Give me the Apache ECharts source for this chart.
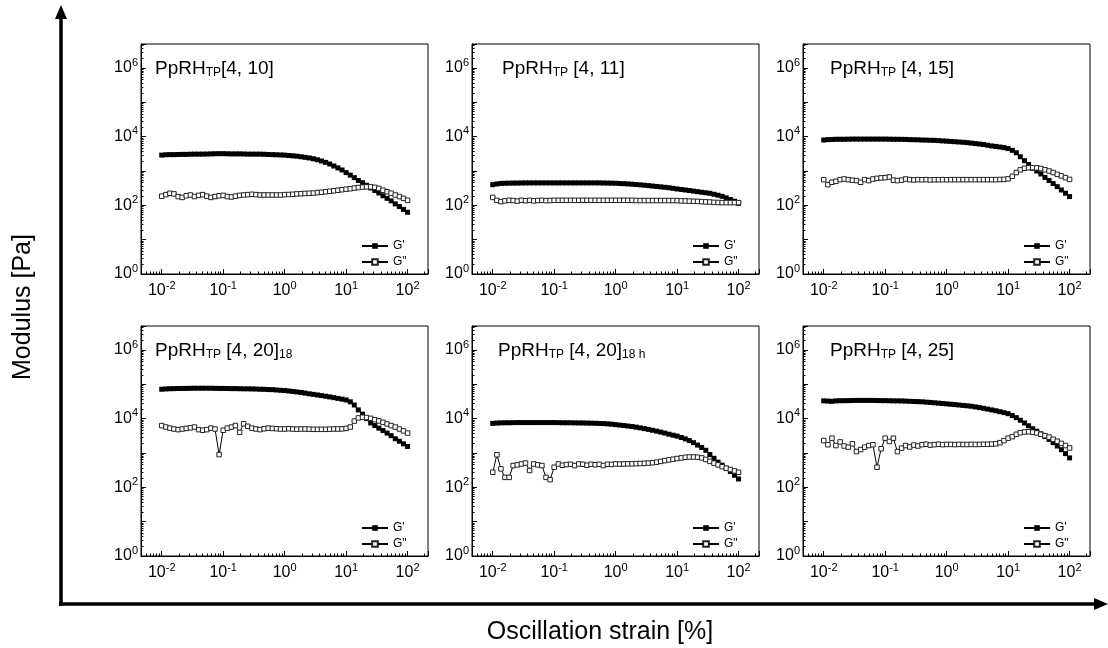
<!DOCTYPE html>
<html>
<head>
<meta charset="utf-8">
<title>Amplitude sweeps</title>
<script src="https://cdn.jsdelivr.net/npm/echarts@6/dist/echarts.min.js"></script>
</head>
<body style="margin:0;background:#fff">
<div id="main" style="width:1108px;height:648px;"></div>
<script>
// strain points [%], 15 per decade, shared by all six sweeps
var strain = [
  0.01, 0.0117, 0.0136, 0.0158, 0.0185, 0.0215, 0.0251, 0.0293, 0.0341, 0.0398, 0.0464, 0.0541, 0.0631, 0.0736, 0.0858,
  0.1, 0.117, 0.136, 0.158, 0.185, 0.215, 0.251, 0.293, 0.341, 0.398, 0.464, 0.541, 0.631, 0.736, 0.858,
  1, 1.17, 1.36, 1.58, 1.85, 2.15, 2.51, 2.93, 3.41, 3.98, 4.64, 5.41, 6.31, 7.36, 8.58,
  10, 11.7, 13.6, 15.8, 18.5, 21.5, 25.1, 29.3, 34.1, 39.8, 46.4, 54.1, 63.1, 73.6, 85.8,
  100];

// G' (storage) and G" (loss) in Pa
var p1Storage = [
  2900, 2970, 3000, 3000, 3030, 3050, 3050, 3080, 3100, 3100, 3100, 3120, 3150, 3180, 3200,
  3200, 3170, 3150, 3150, 3150, 3130, 3100, 3100, 3100, 3100, 3070, 3030, 3000, 2970, 2930,
  2900, 2830, 2770, 2700, 2600, 2500, 2400, 2270, 2120, 1950, 1780, 1600, 1400, 1230, 1070,
  900, 760, 640, 530, 455, 385, 320, 270, 230, 190, 160, 135, 110, 92, 76,
  63];
var p1Loss = [
  185, 205, 225, 215, 180, 170, 190, 200, 180, 195, 205, 185, 170, 180, 190,
  195, 180, 175, 185, 195, 200, 205, 210, 205, 200, 200, 200, 200, 200, 200,
  205, 207, 210, 215, 218, 222, 225, 228, 235, 240, 250, 257, 265, 275, 285,
  295, 305, 318, 330, 340, 345, 345, 335, 310, 275, 250, 225, 200, 180, 160,
  140];

var p2Storage = [
  400, 420, 435, 440, 443, 445, 445, 448, 450, 450, 450, 450, 450, 450, 450,
  450, 450, 450, 450, 450, 450, 450, 450, 450, 450, 450, 450, 447, 445, 443,
  440, 433, 427, 420, 413, 405, 395, 385, 375, 365, 355, 345, 335, 325, 313,
  300, 290, 280, 270, 260, 250, 240, 232, 224, 210, 197, 183, 165, 148, 132,
  115];
var p2Loss = [
  170, 140, 128, 135, 140, 138, 133, 140, 136, 140, 135, 138, 140, 137, 138,
  140, 140, 140, 140, 140, 140, 140, 140, 140, 140, 140, 140, 140, 140, 140,
  140, 140, 140, 140, 140, 138, 138, 138, 138, 138, 138, 138, 138, 138, 138,
  137, 135, 134, 133, 131, 130, 128, 126, 125, 122, 121, 120, 120, 120, 120,
  120];

var p3Storage = [
  8000, 8200, 8300, 8400, 8400, 8400, 8450, 8500, 8500, 8500, 8500, 8500, 8500, 8500, 8500,
  8500, 8450, 8400, 8400, 8350, 8300, 8200, 8150, 8100, 8000, 7930, 7870, 7800, 7670, 7530,
  7400, 7270, 7130, 7000, 6870, 6700, 6500, 6300, 6100, 5900, 5630, 5370, 5200, 5000, 4800,
  4500, 4000, 3400, 2600, 2000, 1550, 1200, 1000, 820, 650, 530, 430, 350, 280, 225,
  180];
var p3Loss = [
  560, 400, 470, 500, 560, 585, 560, 540, 525, 470, 560, 525, 585, 610, 630,
  640, 670, 540, 525, 540, 585, 560, 550, 560, 555, 560, 550, 555, 555, 560,
  555, 560, 560, 560, 560, 560, 560, 560, 560, 560, 560, 560, 560, 565, 570,
  590, 700, 900, 1080, 1200, 1250, 1250, 1230, 1180, 1080, 1000, 900, 800, 720, 640,
  570];

var p4Storage = [
  72000, 73500, 74500, 75000, 75500, 76000, 76000, 76500, 77000, 77000, 77000, 77000, 77000, 76500, 76000,
  76000, 75500, 75000, 75000, 74500, 74000, 74000, 73500, 73000, 72000, 71500, 70500, 70000, 68500, 67000,
  66000, 64000, 62000, 60000, 58000, 55500, 53000, 51000, 49000, 47000, 45000, 43000, 41000, 39000, 37000,
  35000, 31000, 25000, 18000, 13500, 10000, 7500, 6300, 5300, 4500, 3800, 3200, 2600, 2200, 1850,
  1550];
var p4Loss = [
  6300, 5700, 5300, 5000, 4800, 5000, 5200, 5400, 5700, 4800, 4600, 4800, 5300, 5000, 900,
  4600, 5300, 5700, 6300, 4000, 7100, 6000, 5300, 5000, 4800, 5100, 5300, 5200, 5100, 5000,
  5000, 5100, 5000, 4950, 5000, 5000, 4950, 4900, 4900, 4900, 4900, 4950, 5000, 5000, 5050,
  5200, 5700, 8500, 10500, 11000, 10800, 10200, 9300, 8600, 7800, 7000, 6300, 5700, 5000, 4400,
  3800];

var p5Storage = [
  7300, 7450, 7550, 7600, 7600, 7650, 7700, 7700, 7700, 7700, 7700, 7700, 7700, 7700, 7700,
  7700, 7650, 7600, 7600, 7600, 7550, 7500, 7500, 7450, 7400, 7330, 7270, 7200, 7070, 6900,
  6700, 6500, 6300, 6100, 5900, 5650, 5400, 5130, 4870, 4600, 4330, 4070, 3800, 3530, 3300,
  3100, 2830, 2570, 2300, 2000, 1700, 1450, 1200, 900, 700, 540, 440, 360, 290, 225,
  175];
var p5Loss = [
  275, 890, 345, 195, 195, 430, 450, 480, 510, 310, 480, 450, 430, 195, 167,
  385, 480, 440, 460, 470, 430, 480, 470, 440, 470, 455, 470, 430, 470, 465,
  480, 475, 480, 485, 485, 490, 495, 500, 510, 520, 540, 570, 600, 630, 660,
  690, 720, 750, 765, 765, 755, 720, 650, 570, 505, 450, 400, 360, 330, 300,
  275];

var p6Storage = [
  33000, 32500, 32000, 33000, 33300, 33500, 33500, 33800, 34000, 34000, 34000, 34000, 34000, 33800, 33500,
  33500, 33300, 33000, 33000, 32800, 32500, 32000, 31700, 31300, 31000, 30300, 29700, 29000, 28300, 27700,
  27000, 26300, 25700, 25000, 24300, 23700, 23000, 22000, 21000, 20000, 19000, 18000, 17000, 16000, 15000,
  14000, 12300, 10700, 9000, 7500, 6200, 5100, 4300, 3600, 3000, 2500, 2000, 1600, 1250, 960,
  720];
var p6Loss = [
  2300, 1740, 2700, 1650, 2100, 1600, 1480, 1850, 1100, 1260, 1480, 1650, 1740, 385, 1330,
  2700, 2170, 2700, 1100, 1390, 1650, 1500, 1700, 1600, 1750, 1800, 1700, 1750, 1800, 1750,
  1780, 1780, 1760, 1780, 1770, 1770, 1780, 1770, 1780, 1790, 1800, 1820, 1850, 2000, 2300,
  2700, 3000, 3500, 3900, 4100, 4150, 4050, 3850, 3500, 3200, 2900, 2500, 2200, 1900, 1650,
  1400];

var panelTitles = ['PpRH{sub|TP}[4, 10]', 'PpRH{sub|TP} [4, 11]', 'PpRH{sub|TP} [4, 15]',
  'PpRH{sub|TP} [4, 20]{sub|18}', 'PpRH{sub|TP} [4, 20]{sub|18 h}', 'PpRH{sub|TP} [4, 25]'];
var storageSets = [p1Storage, p2Storage, p3Storage, p4Storage, p5Storage, p6Storage];
var lossSets = [p1Loss, p2Loss, p3Loss, p4Loss, p5Loss, p6Loss];

var FONT = 'Liberation Sans, Arial, sans-serif';
var colLeft = [141, 472, 803];
var rowTop = [44, 326];
var W = 287, H = 230;
var titleDx = [14, 30, 27, 14, 26, 27];

function powLabel(evenOnly) {
  return function (v) {
    var e = Math.log10(v);
    var r = Math.round(e);
    if (Math.abs(e - r) > 1e-6) return '';
    if (evenOnly && r % 2 !== 0) return '';
    return '10{s|' + r + '}';
  };
}

function axisCommon(evenOnly, margin) {
  return {
    type: 'log',
    logBase: 10,
    axisLine: { show: true, onZero: false, lineStyle: { color: '#000', width: 1 } },
    axisTick: { show: true, inside: true, length: 5, lineStyle: { color: '#000' } },
    minorTick: { show: true, splitNumber: 10, length: 2.5, lineStyle: { color: '#000' } },
    splitLine: { show: false },
    minorSplitLine: { show: false },
    axisLabel: {
      formatter: powLabel(evenOnly),
      margin: margin,
      color: '#000',
      fontSize: 16,
      fontFamily: FONT,
      rich: { s: { fontSize: 11, fontFamily: FONT, color: '#000', padding: [0, 0, 11, 0] } }
    }
  };
}

function buildOption() {
  var grids = [], xAxes = [], yAxes = [], series = [], titles = [], legends = [];
  for (var i = 0; i < 6; i++) {
    var gx = colLeft[i % 3], gy = rowTop[Math.floor(i / 3)];
    grids.push({ left: gx, top: gy, width: W, height: H, show: true,
      borderColor: '#000', borderWidth: 1 });

    var xa = axisCommon(false, 6);
    xa.gridIndex = i; xa.min = 0.0046; xa.max = 215;
    xAxes.push(xa);
    var ya = axisCommon(true, 3);
    ya.gridIndex = i; ya.min = 1; ya.max = 5e6;
    yAxes.push(ya);

    titles.push({
      text: panelTitles[i], left: gx + titleDx[i], top: gy + 14, padding: 0,
      textStyle: { fontSize: 19, fontWeight: 'normal', color: '#000', fontFamily: FONT,
        rich: { sub: { fontSize: 12, color: '#000', fontFamily: FONT, padding: [9, 0, 0, 0] } } }
    });

    legends.push({
      left: gx + 220, top: gy + H - 34, orient: 'vertical', padding: 0,
      itemWidth: 26, itemHeight: 7, itemGap: 4, selectedMode: false,
      textStyle: { fontSize: 12, color: '#000', fontFamily: FONT },
      data: ["G'", 'G"']
    });

    var gs = storageSets[i], gl = lossSets[i];
    series.push({
      name: "G'", type: 'line', xAxisIndex: i, yAxisIndex: i,
      data: strain.map(function (x, k) { return [x, gs[k]]; }),
      symbol: 'rect', symbolSize: 5, showAllSymbol: true,
      itemStyle: { color: '#000' }, lineStyle: { color: '#000', width: 1 }
    });
    series.push({
      name: 'G"', type: 'line', xAxisIndex: i, yAxisIndex: i,
      data: strain.map(function (x, k) { return [x, gl[k]]; }),
      symbol: 'rect', symbolSize: 4.5, showAllSymbol: true,
      itemStyle: { color: '#fff', borderColor: '#222', borderWidth: 1 },
      lineStyle: { color: '#000', width: 1 }
    });
  }
  return {
    animation: false,
    backgroundColor: '#fff',
    title: titles,
    legend: legends,
    grid: grids,
    xAxis: xAxes,
    yAxis: yAxes,
    series: series,
    graphic: [
      { type: 'line', shape: { x1: 61, y1: 606, x2: 61, y2: 16 }, style: { stroke: '#000', lineWidth: 3.5 } },
      { type: 'polygon', shape: { points: [[61, 5], [55, 19], [67, 19]] }, style: { fill: '#000' } },
      { type: 'line', shape: { x1: 59, y1: 604, x2: 1096, y2: 604 }, style: { stroke: '#000', lineWidth: 3.5 } },
      { type: 'polygon', shape: { points: [[1108, 604], [1094, 598], [1094, 610]] }, style: { fill: '#000' } },
      { type: 'text', x: 23, y: 307, rotation: Math.PI / 2,
        style: { text: 'Modulus [Pa]', fontSize: 25, fontFamily: FONT, fill: '#000', align: 'center', verticalAlign: 'middle' } },
      { type: 'text', x: 600, y: 632,
        style: { text: 'Oscillation strain [%]', fontSize: 25, fontFamily: FONT, fill: '#000', align: 'center', verticalAlign: 'middle' } }
    ]
  };
}

var chart = echarts.init(document.getElementById('main'));
chart.setOption(buildOption());
</script>
</body>
</html>
